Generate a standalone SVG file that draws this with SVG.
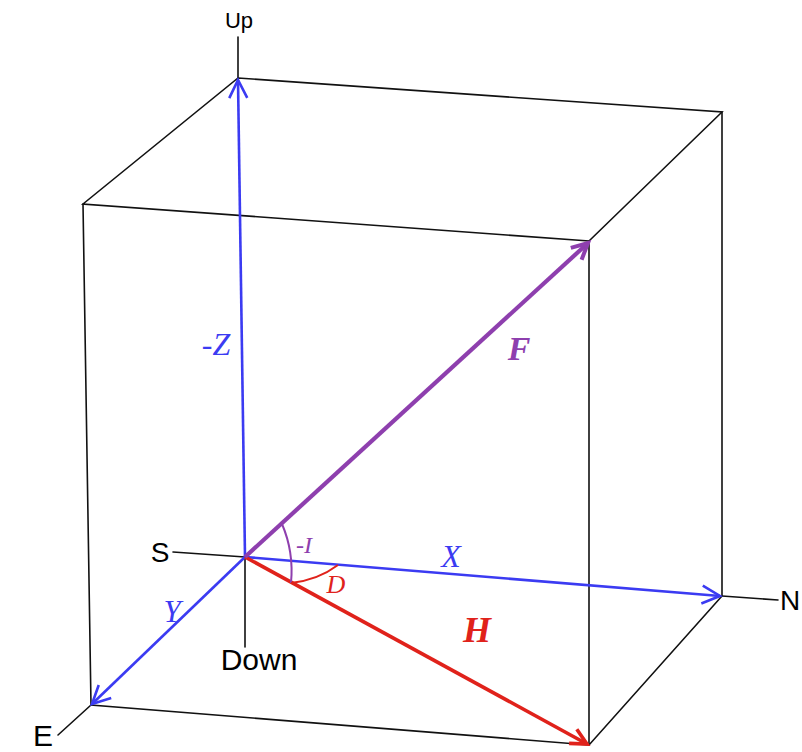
<svg xmlns="http://www.w3.org/2000/svg" width="802" height="752" viewBox="0 0 802 752">
<defs>
<style>
.edge{stroke:#111;stroke-width:1.6;fill:none;stroke-linecap:round}
.ax{stroke:#3b3bf2;stroke-width:2.6;fill:none}
.fv{stroke:#8e3fae;stroke-width:4.2;fill:none}
.hv{stroke:#e0221b;stroke-width:3.6;fill:none}
.sans{font-family:"Liberation Sans",Arial,sans-serif;fill:#000}
.ser{font-family:"Liberation Serif","Times New Roman",serif;font-style:italic}
.blue{fill:#3b3bf2}
.purple{fill:#8e3fae}
.red{fill:#e0221b}
</style>
<marker id="mb" markerUnits="userSpaceOnUse" markerWidth="30" markerHeight="30" refX="0" refY="0" orient="auto" overflow="visible">
<path d="M-18,-9 L0,0 L-18,9" fill="none" stroke="#3b3bf2" stroke-width="2.6" stroke-linejoin="miter"/>
</marker>
<marker id="mp" markerUnits="userSpaceOnUse" markerWidth="30" markerHeight="30" refX="0" refY="0" orient="auto" overflow="visible">
<path d="M-16,-8 L0,0 L-16,8" fill="none" stroke="#8e3fae" stroke-width="4" stroke-linejoin="miter"/>
</marker>
<marker id="mr" markerUnits="userSpaceOnUse" markerWidth="30" markerHeight="30" refX="0" refY="0" orient="auto" overflow="visible">
<path d="M-16,-8 L0,0 L-16,8" fill="none" stroke="#e0221b" stroke-width="3.6" stroke-linejoin="miter"/>
</marker>
</defs>
<rect width="802" height="752" fill="#fff"/>
<g id="cube">
<path class="edge" d="M238,78 L722,112 L589,241 L83,204 Z"/>
<path class="edge" d="M83,204 L91,705 L589,745 L722,596 L722,112"/>
<path class="edge" d="M589,241 L589,745"/>
</g>
<g id="connectors">
<path class="edge" d="M245,557 L173,552"/>
<path class="edge" d="M245,557 L245,647"/>
<path class="edge" d="M238,78 L238,37"/>
<path class="edge" d="M91,705 L58,735"/>
<path class="edge" d="M722,596 L778,600"/>
<path class="ax" d="M245,557 L238,80" marker-end="url(#mb)"/>
<path class="ax" d="M245,557 L720,596" marker-end="url(#mb)"/>
<path class="ax" d="M245,557 L92,704" marker-end="url(#mb)"/>
<path class="hv" d="M245,557 L587,744" marker-end="url(#mr)"/>
<path class="fv" d="M245,557 L588,243" marker-end="url(#mp)"/>
<path d="M282,524 Q294,552 291,583" fill="none" stroke="#8e3fae" stroke-width="2"/>
<path d="M291,583 Q318,580 338,565" fill="none" stroke="#e0221b" stroke-width="2"/>
</g>
<g id="labels">
<text class="sans" x="239" y="28" font-size="22" text-anchor="middle">Up</text>
<text class="sans" x="259" y="670" font-size="30" text-anchor="middle">Down</text>
<text class="sans" x="160" y="562" font-size="28" text-anchor="middle">S</text>
<text class="sans" x="43" y="746" font-size="30" text-anchor="middle">E</text>
<text class="sans" x="780" y="610" font-size="28">N</text>
<text class="ser blue" x="216" y="355" font-size="32" text-anchor="middle">-Z</text>
<text class="ser blue" x="451" y="567" font-size="32" text-anchor="middle">X</text>
<text class="ser blue" x="172" y="622" font-size="31" text-anchor="middle">Y</text>
<text class="ser purple" x="519" y="360" font-size="34" font-weight="bold" text-anchor="middle">F</text>
<text class="ser red" x="477" y="642" font-size="36" font-weight="bold" text-anchor="middle">H</text>
<text class="ser purple" x="304" y="553" font-size="24" text-anchor="middle">-I</text>
<text class="ser red" x="336" y="593" font-size="26" text-anchor="middle">D</text>
</g>
</svg>
